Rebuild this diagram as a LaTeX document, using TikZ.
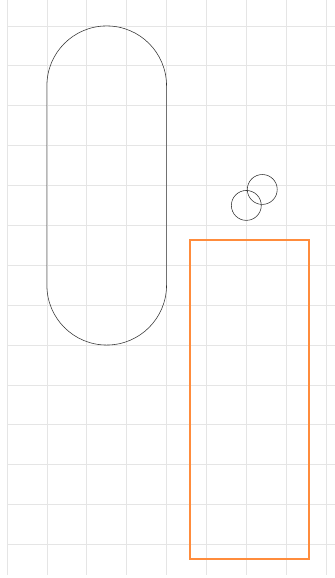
\documentclass[tikz,border=0pt]{standalone}
\usepackage{tikz}
\definecolor{boxorange}{RGB}{255,140,60}
\tikzstyle{gridline}=[
	draw=gray!20,
	line width=0.5pt
]
\tikzstyle{outline}=[
	draw=black!80,
	line width=0.4pt
]
\tikzstyle{frame}=[
	draw=boxorange,
	line width=1.4pt
]

\begin{document}
\begin{tikzpicture}
\useasboundingbox (-0.175,-0.84) rectangle (8.22,13.65);
\draw[gridline] (0,-0.76) grid (8.22,13.65);

% capsule
\draw[outline, rounded corners=1.5cm] (1,5) rectangle (4,13);

% two small rings
\foreach \x/\y in {6/8.5, 6.4/8.9}{
    \draw[outline] (\x,\y) circle (0.375);
}

% box
\draw[frame] (4.58,-0.36) rectangle (7.57,7.64);
\end{tikzpicture}
\end{document}
